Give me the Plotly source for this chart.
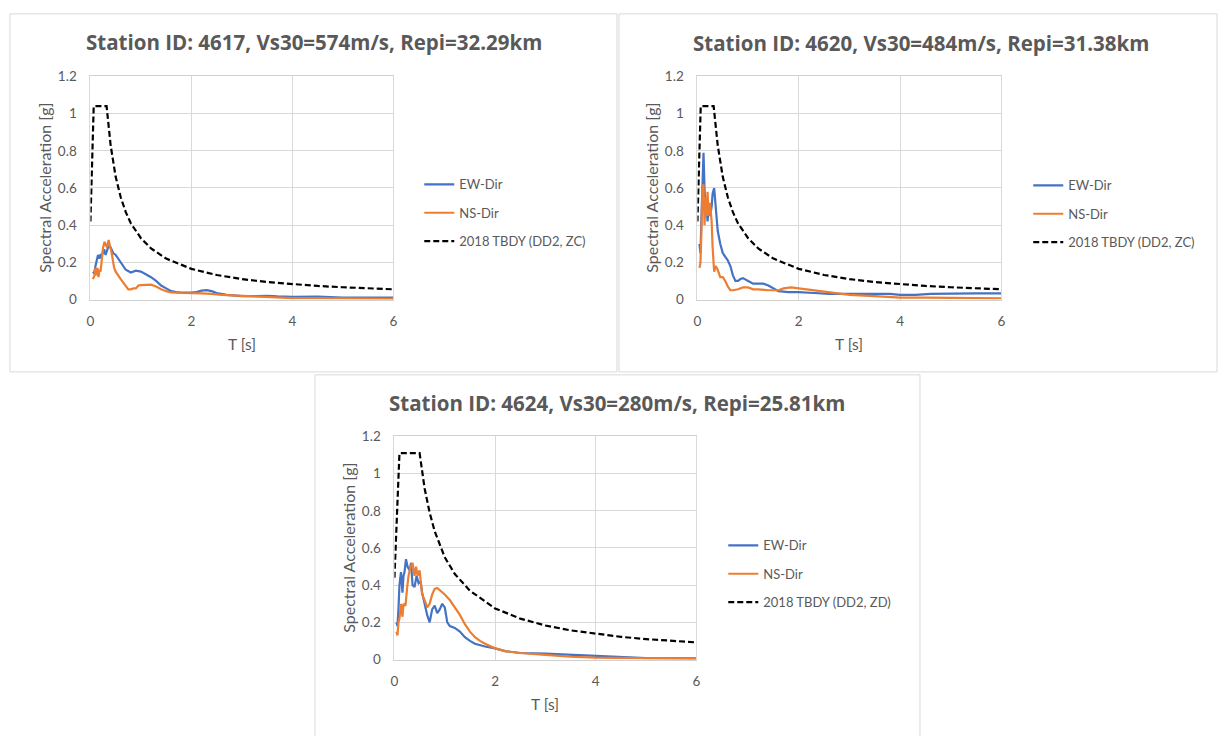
import plotly.graph_objects as go

W, H = 1223, 736
FONT = "Lato"
TFONT = "Open Sans"
GREY = "#595959"
BLUE = "#4472C4"
ORANGE = "#ED7D31"

# ---------------- data ----------------
titles = ["Station ID: 4617, Vs30=574m/s, Repi=32.29km",
          "Station ID: 4620, Vs30=484m/s, Repi=31.38km",
          "Station ID: 4624, Vs30=280m/s, Repi=25.81km"]
design_names = ["2018 TBDY (DD2, ZC)", "2018 TBDY (DD2, ZC)", "2018 TBDY (DD2, ZD)"]

# Station 4617
p1_ew_T = [0.05, 0.08, 0.1, 0.13, 0.15, 0.18, 0.2, 0.23, 0.27, 0.3, 0.33, 0.36, 0.4, 0.45, 0.5, 0.6, 0.7,
           0.8, 0.9, 1.0, 1.1, 1.2, 1.3, 1.4, 1.5, 1.6, 1.7, 1.8, 2.0, 2.1, 2.2, 2.3, 2.4, 2.5, 2.7, 3.0,
           3.3, 3.5, 3.7, 4.0, 4.5, 4.7, 5.0, 5.5, 6.0]
p1_ew_Sa = [0.14, 0.15, 0.18, 0.23, 0.24, 0.22, 0.24, 0.24, 0.27, 0.24, 0.26, 0.29, 0.28, 0.25, 0.24, 0.2, 0.16,
            0.145, 0.155, 0.15, 0.135, 0.12, 0.1, 0.075, 0.06, 0.045, 0.04, 0.037, 0.037, 0.04, 0.048, 0.05,
            0.045, 0.035, 0.025, 0.018, 0.018, 0.02, 0.017, 0.015, 0.016, 0.012, 0.01, 0.01, 0.01]
p1_ns_T = [0.05, 0.08, 0.1, 0.12, 0.14, 0.16, 0.18, 0.2, 0.22, 0.25, 0.28, 0.3, 0.33, 0.36, 0.38, 0.42, 0.47,
           0.5, 0.6, 0.7, 0.75, 0.8, 0.85, 0.9, 0.95, 1.0, 1.1, 1.2, 1.3, 1.4, 1.5, 1.6, 1.8, 2.0, 2.2, 2.4,
           2.6, 3.0, 3.5, 4.0, 4.5, 5.0, 6.0]
p1_ns_Sa = [0.11, 0.13, 0.17, 0.13, 0.17, 0.12, 0.16, 0.15, 0.2, 0.28, 0.31, 0.3, 0.28, 0.32, 0.3, 0.25, 0.17,
            0.15, 0.11, 0.07, 0.055, 0.055, 0.06, 0.06, 0.075, 0.078, 0.078, 0.08, 0.07, 0.055, 0.045, 0.038,
            0.035, 0.035, 0.033, 0.03, 0.025, 0.02, 0.012, 0.008, 0.007, 0.005, 0.004]
p1_dd_T = [0.0, 0.065, 0.32, 0.4, 0.5, 0.6, 0.7, 0.8, 1.0, 1.2, 1.5, 2.0, 2.5, 3.0, 3.5, 4.0, 4.5, 5.0, 5.5, 6.0]
p1_dd_Sa = [0.42, 1.04, 1.04, 0.83, 0.66, 0.55, 0.47, 0.41, 0.33, 0.275, 0.22, 0.165, 0.132, 0.11, 0.094,
            0.083, 0.073, 0.066, 0.06, 0.055]

# Station 4620
p2_ew_T = [0.04, 0.06, 0.08, 0.1, 0.12, 0.14, 0.16, 0.18, 0.2, 0.22, 0.25, 0.28, 0.3, 0.33, 0.36, 0.4, 0.45,
           0.5, 0.55, 0.6, 0.65, 0.7, 0.75, 0.8, 0.85, 0.9, 1.0, 1.1, 1.2, 1.3, 1.4, 1.5, 1.6, 1.8, 2.0, 2.3,
           2.6, 3.0, 3.5, 3.8, 4.0, 4.3, 4.6, 5.0, 5.5, 6.0]
p2_ew_Sa = [0.3, 0.25, 0.45, 0.7, 0.79, 0.6, 0.45, 0.5, 0.42, 0.48, 0.45, 0.5, 0.57, 0.6, 0.5, 0.37, 0.3,
            0.25, 0.23, 0.21, 0.18, 0.13, 0.1, 0.1, 0.11, 0.115, 0.1, 0.085, 0.085, 0.085, 0.075, 0.06, 0.045,
            0.04, 0.04, 0.035, 0.03, 0.03, 0.03, 0.03, 0.025, 0.025, 0.03, 0.033, 0.033, 0.033]
p2_ns_T = [0.04, 0.06, 0.08, 0.1, 0.12, 0.14, 0.16, 0.18, 0.2, 0.22, 0.25, 0.28, 0.3, 0.33, 0.36, 0.4, 0.45,
           0.5, 0.55, 0.6, 0.65, 0.7, 0.8, 0.9, 1.0, 1.1, 1.2, 1.4, 1.6, 1.7, 1.85, 2.0, 2.2, 2.5, 3.0, 3.5,
           4.0, 4.5, 5.0, 6.0]
p2_ns_Sa = [0.17, 0.2, 0.38, 0.6, 0.62, 0.4, 0.55, 0.45, 0.58, 0.45, 0.52, 0.42, 0.28, 0.15, 0.18, 0.16, 0.12,
            0.12, 0.1, 0.07, 0.05, 0.05, 0.055, 0.065, 0.065, 0.055, 0.055, 0.05, 0.05, 0.06, 0.065, 0.06,
            0.05, 0.04, 0.025, 0.018, 0.01, 0.01, 0.008, 0.006]
p2_dd_T = p1_dd_T
p2_dd_Sa = p1_dd_Sa

# Station 4624
p3_ew_T = [0.04, 0.06, 0.08, 0.1, 0.13, 0.16, 0.18, 0.2, 0.23, 0.26, 0.3, 0.33, 0.36, 0.4, 0.44, 0.48, 0.52,
           0.55, 0.6, 0.65, 0.7, 0.75, 0.8, 0.85, 0.9, 0.95, 1.0, 1.05, 1.1, 1.2, 1.3, 1.4, 1.5, 1.6, 1.8,
           2.0, 2.2, 2.5, 3.0, 3.5, 4.0, 4.5, 5.0, 6.0]
p3_ew_Sa = [0.2, 0.18, 0.27, 0.4, 0.47, 0.36, 0.45, 0.47, 0.54, 0.5, 0.48, 0.52, 0.4, 0.39, 0.45, 0.41, 0.42,
            0.36, 0.3, 0.24, 0.2, 0.27, 0.29, 0.25, 0.27, 0.3, 0.28, 0.2, 0.18, 0.17, 0.15, 0.12, 0.1, 0.085,
            0.07, 0.06, 0.045, 0.035, 0.032, 0.025, 0.018, 0.012, 0.008, 0.006]
p3_ns_T = [0.04, 0.06, 0.08, 0.1, 0.13, 0.16, 0.18, 0.22, 0.25, 0.28, 0.32, 0.36, 0.4, 0.43, 0.46, 0.5, 0.55,
           0.6, 0.65, 0.7, 0.75, 0.8, 0.85, 0.9, 1.0, 1.1, 1.2, 1.3, 1.4, 1.5, 1.6, 1.7, 1.8, 2.0, 2.2, 2.5,
           3.0, 3.5, 4.0, 4.5, 5.0, 6.0]
p3_ns_Sa = [0.15, 0.13, 0.2, 0.22, 0.3, 0.23, 0.3, 0.29, 0.38, 0.45, 0.5, 0.52, 0.45, 0.5, 0.45, 0.48, 0.35,
            0.32, 0.28, 0.3, 0.35, 0.38, 0.385, 0.375, 0.35, 0.32, 0.28, 0.24, 0.19, 0.15, 0.12, 0.1, 0.085,
            0.06, 0.045, 0.035, 0.025, 0.015, 0.01, 0.008, 0.005, 0.004]
p3_dd_T = [0.0, 0.1, 0.5, 0.6, 0.7, 0.8, 1.0, 1.2, 1.5, 2.0, 2.5, 3.0, 3.5, 4.0, 4.5, 5.0, 5.5, 6.0]
p3_dd_Sa = [0.44, 1.11, 1.11, 0.92, 0.79, 0.69, 0.55, 0.46, 0.37, 0.275, 0.22, 0.183, 0.157, 0.138, 0.122,
            0.11, 0.1, 0.092]

x_ticks = [0, 2, 4, 6]
y_ticks = [0, 0.2, 0.4, 0.6, 0.8, 1.0, 1.2]

panels = [
    dict(ew=(p1_ew_T, p1_ew_Sa), ns=(p1_ns_T, p1_ns_Sa), dd=(p1_dd_T, p1_dd_Sa)),
    dict(ew=(p2_ew_T, p2_ew_Sa), ns=(p2_ns_T, p2_ns_Sa), dd=(p2_dd_T, p2_dd_Sa)),
    dict(ew=(p3_ew_T, p3_ew_Sa), ns=(p3_ns_T, p3_ns_Sa), dd=(p3_dd_T, p3_dd_Sa)),
]

# ---------------- layout geometry (pixels) ----------------
# plot area: left, right, top, bottom
areas = [(87, 392, 70, 298), (698, 1004, 70, 298), (393, 697, 438, 666)]
frames = [(6, 617, 6, 372), (619, 1221, 6, 372), (313, 922, 375, 760)]
title_pos = [(312, 35), (923, 36), (617, 404)]
legend_pos = [(418, 165), (1031, 166), (724, 534)]


def px(x):
    return x / W


def py(y):
    return 1 - y / H


fig = go.Figure()
layout = dict(width=W, height=H, margin=dict(l=0, r=0, t=0, b=0),
              paper_bgcolor="white", plot_bgcolor="white",
              font=dict(family=FONT, size=13, color=GREY), showlegend=True)
annotations = []
shapes = []

for i, p in enumerate(panels):
    n = "" if i == 0 else str(i + 1)
    xa, ya = "x" + n, "y" + n
    leg = "legend" + n
    for key, name, color, dash in [("ew", "EW-Dir", BLUE, "solid"),
                                   ("ns", "NS-Dir", ORANGE, "solid"),
                                   ("dd", design_names[i], "black", "6px,3px")]:
        T, Sa = p[key]
        fig.add_trace(go.Scatter(x=T, y=Sa, mode="lines", name=name, xaxis=xa, yaxis=ya,
                                 legend=leg, legendgroup=f"{i}{key}",
                                 line=dict(color=color, width=2.2, dash=dash)))
    l, r, t, b = areas[i]
    layout["xaxis" + n] = dict(domain=[px(l), px(r)], anchor=ya, range=[0, 6], tickvals=x_ticks,
                               showgrid=True, gridcolor="#d9d9d9", gridwidth=1, zeroline=False,
                               showline=True, linecolor="#d0d0d0", mirror=True,
                               ticks="outside", ticklen=9, tickcolor="rgba(0,0,0,0)",
                               tickfont=dict(size=13.5, color=GREY, family=FONT), fixedrange=True)
    layout["yaxis" + n] = dict(domain=[py(b), py(t)], anchor=xa, range=[0, 1.2], tickvals=y_ticks,
                               showgrid=True, gridcolor="#d9d9d9", gridwidth=1, zeroline=False,
                               showline=True, linecolor="#d9d9d9", mirror=True,
                               ticks="outside", ticklen=10, tickcolor="rgba(0,0,0,0)",
                               tickfont=dict(size=13.5, color=GREY, family=FONT), fixedrange=True)
    lx, ly = legend_pos[i]
    layout[leg] = dict(x=px(lx), y=py(ly), xanchor="left", yanchor="top",
                       bgcolor="rgba(0,0,0,0)", borderwidth=0, traceorder="grouped",
                       tracegroupgap=8.5, font=dict(size=13, color=GREY, family=FONT))
    tx, ty = title_pos[i]
    annotations.append(dict(text="<b>" + titles[i] + "</b>", x=px(tx), y=py(ty), xref="paper",
                            yref="paper", xanchor="center", yanchor="middle", showarrow=False,
                            font=dict(size=20.5, color=GREY, family=TFONT)))
    annotations.append(dict(text="T [s]", x=px((l + r) / 2), y=py(b + 45), xref="paper", yref="paper",
                            xanchor="center", yanchor="middle", showarrow=False,
                            font=dict(size=15.5, color=GREY, family=FONT)))
    annotations.append(dict(text="Spectral Acceleration [g]", x=px(l - 47), y=py((t + b) / 2),
                            xref="paper", yref="paper", xanchor="center", yanchor="middle",
                            textangle=-90, showarrow=False, font=dict(size=16, color=GREY, family=FONT)))
    fx0, fx1, fy0, fy1 = frames[i]
    shapes.append(dict(type="rect", xref="paper", yref="paper", x0=px(fx0), x1=px(fx1),
                       y0=py(fy1), y1=py(fy0), line=dict(color="#d9d9d9", width=1),
                       fillcolor="rgba(0,0,0,0)", layer="below"))

layout["annotations"] = annotations
layout["shapes"] = shapes
fig.update_layout(**layout)
fig.write_html("out.html")
